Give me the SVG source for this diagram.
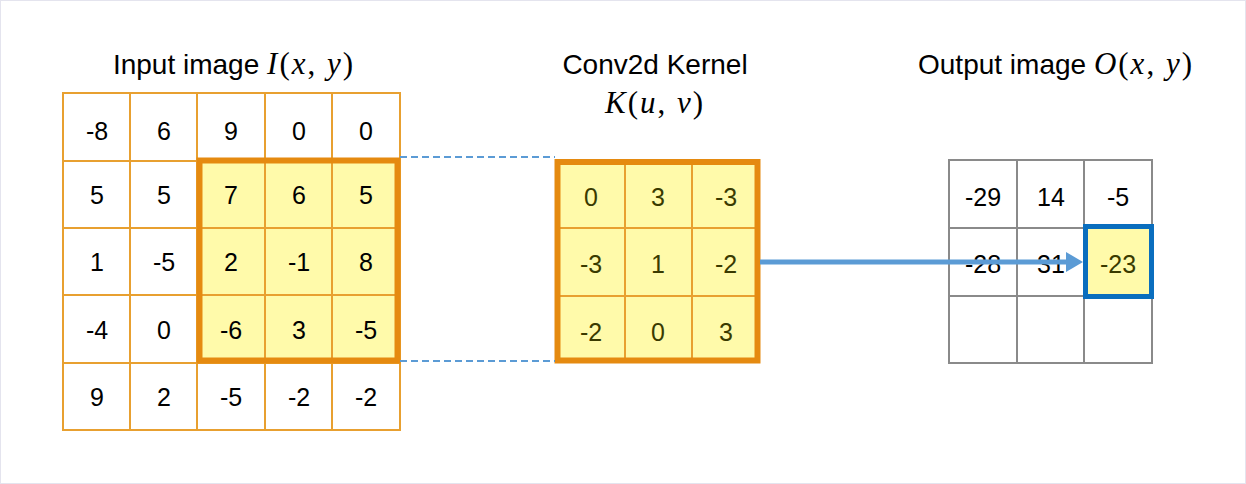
<svg xmlns="http://www.w3.org/2000/svg" width="1246" height="484" viewBox="0 0 1246 484">
<style>
.t{font-family:"Liberation Sans",Arial,sans-serif;font-size:25px;text-anchor:middle;fill:#000}
.ty{fill:#3a3a00}
.title{font-family:"Liberation Sans",Arial,sans-serif;font-size:28px;fill:#000}
.m{font-family:"Liberation Serif","Times New Roman",serif;font-size:31px;letter-spacing:2px}
.i{font-style:italic}
.og{fill:none;stroke:#E8A030;stroke-width:2}
.gg{fill:none;stroke:#8a8a8a;stroke-width:2}
</style>
<rect x="0.5" y="0.5" width="1245" height="483" fill="#fff" stroke="#e4e4ee" stroke-width="1"/>
<g id="titles">
<text class="title" x="234" y="74" text-anchor="middle">Input image <tspan class="m"><tspan class="i">I</tspan>(<tspan class="i">x</tspan>, <tspan class="i">y</tspan>)</tspan></text>
<text class="title" x="655" y="74" text-anchor="middle">Conv2d Kernel</text>
<text class="title m" x="655" y="113" text-anchor="middle"><tspan class="i">K</tspan>(<tspan class="i">u</tspan>, <tspan class="i">v</tspan>)</text>
<text class="title" x="1056" y="74" text-anchor="middle">Output image <tspan class="m"><tspan class="i">O</tspan>(<tspan class="i">x</tspan>, <tspan class="i">y</tspan>)</tspan></text>
</g>
<g id="input-image">
<rect x="197" y="160" width="203" height="203" fill="#FFFAAA"/>
<path class="og" d="M63,93H400V430H63Z M130,93V430 M197,93V430 M265,93V430 M332,93V430 M63,161H400 M63,228H400 M63,295H400 M63,363H400"/>
<rect x="199.5" y="160.5" width="198" height="200" fill="none" stroke="#E58A10" stroke-width="6"/>
<g class="t">
<text x="97" y="140">-8</text><text x="164" y="140">6</text><text x="231" y="140">9</text><text x="299" y="140">0</text><text x="366" y="140">0</text>
<text x="97" y="204">5</text><text x="164" y="204">5</text><text x="231" y="204">7</text><text x="299" y="204">6</text><text x="366" y="204">5</text>
<text x="97" y="271">1</text><text x="164" y="271">-5</text><text x="231" y="271">2</text><text x="299" y="271">-1</text><text x="366" y="271">8</text>
<text x="97" y="339">-4</text><text x="164" y="339">0</text><text x="231" y="339">-6</text><text x="299" y="339">3</text><text x="366" y="339">-5</text>
<text x="97" y="406">9</text><text x="164" y="406">2</text><text x="231" y="406">-5</text><text x="299" y="406">-2</text><text x="366" y="406">-2</text>
</g>
</g>
<g id="kernel">
<rect x="555" y="160" width="205" height="203" fill="#FFFAAA"/>
<path class="og" d="M625,160V363 M692,160V363 M555,228H760 M555,296H760"/>
<rect x="557.5" y="162" width="200" height="198.5" fill="none" stroke="#E58A10" stroke-width="6"/>
<g class="t ty">
<text x="591" y="206">0</text><text x="658" y="206">3</text><text x="726" y="206">-3</text>
<text x="591" y="273">-3</text><text x="658" y="273">1</text><text x="726" y="273">-2</text>
<text x="591" y="341">-2</text><text x="658" y="341">0</text><text x="726" y="341">3</text>
</g>
</g>
<g id="output-image">
<rect x="1084" y="228" width="68" height="68" fill="#FFFAAA"/>
<path class="gg" d="M949,160H1152V363H949Z M1017,160V363 M1084,160V363 M949,228H1152 M949,296H1152"/>
<rect x="1085.5" y="226.5" width="66" height="70" fill="none" stroke="#0A6EBE" stroke-width="5"/>
<g class="t">
<text x="983" y="206">-29</text><text x="1051" y="206">14</text><text x="1118" y="206">-5</text>
<text x="983" y="273">-28</text><text x="1051" y="273">31</text><text class="ty" x="1118" y="273">-23</text>
</g>
</g>
<g id="connectors">
<path d="M400,157H555 M400,361H555" fill="none" stroke="#5B9BD5" stroke-width="2" stroke-dasharray="7,4"/>
<line x1="760" y1="262" x2="1068" y2="262" stroke="#5B9BD5" stroke-width="5"/>
<polygon points="1066,252 1083,262 1066,272" fill="#5B9BD5"/>
</g>
</svg>
